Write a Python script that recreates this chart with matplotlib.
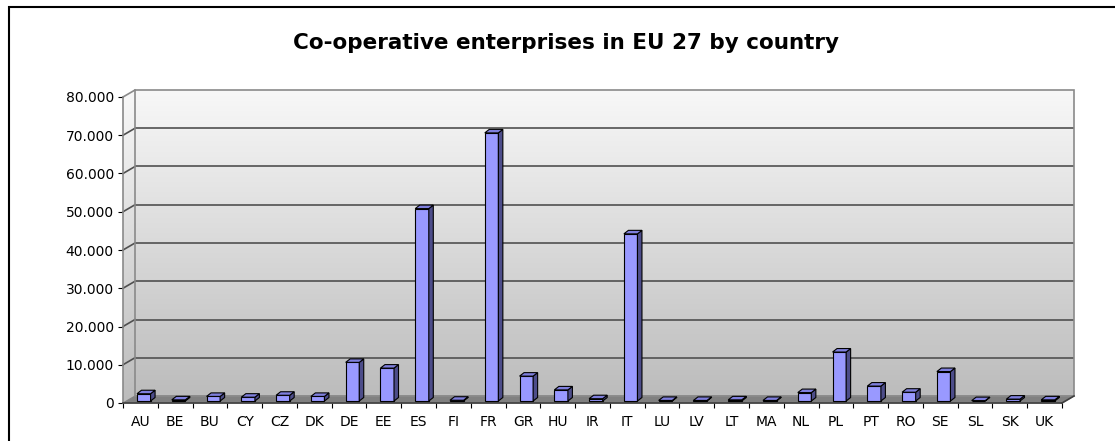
import numpy as np
import matplotlib.pyplot as plt
from matplotlib.colors import LinearSegmentedColormap
from matplotlib.patches import Polygon, Rectangle
from matplotlib.lines import Line2D
from matplotlib.transforms import ScaledTranslation, IdentityTransform, Affine2D

countries = ['AU', 'BE', 'BU', 'CY', 'CZ', 'DK', 'DE', 'EE', 'ES', 'FI', 'FR', 'GR', 'HU', 'IR',
             'IT', 'LU', 'LV', 'LT', 'MA', 'NL', 'PL', 'PT', 'RO', 'SE', 'SL', 'SK', 'UK']
enterprises = [1900, 300, 1200, 1000, 1500, 1200, 10100, 8600, 50300, 200, 70100, 6500, 2900, 600,
               43700, 150, 150, 300, 150, 2200, 12800, 3900, 2300, 7700, 100, 500, 300]
y_ticks = list(range(0, 80001, 10000))
y_labels = [f"{v:,}".replace(",", ".") for v in y_ticks]
title = 'Co-operative enterprises in EU 27 by country'

plt.rcParams['font.family'] = ['DejaVu Sans']

W, H = 1115, 441
fig = plt.figure(figsize=(W / 100, H / 100), dpi=100)
ax = fig.add_axes([123 / W, 38 / H, 939 / W, 306 / H])
n = len(countries)
ax.set_xlim(0, n)
ax.set_ylim(0, 80000)
ax.set_autoscale_on(False)
ax.patch.set_visible(False)

DX, DY = 12, 7          # wall depth in pixels
BX, BY = 3.4, 2         # where the bar fronts stand
BDX, BDY = 4.5, 3.5     # bar depth


def shift(dx, dy):
    return ax.transData + ScaledTranslation(dx / 100, dy / 100, fig.dpi_scale_trans)


def px(x, y, dx=0, dy=0):
    X, Y = ax.transData.transform((x, y))
    return (X + dx, Y + dy)


def poly(pts, **kw):
    p = Polygon(pts, closed=True, transform=IdentityTransform(), clip_on=False, **kw)
    ax.add_artist(p)


def line(p1, p2, **kw):
    ax.add_artist(Line2D([p1[0], p2[0]], [p1[1], p2[1]], transform=IdentityTransform(),
                         clip_on=False, **kw))


wall = LinearSegmentedColormap.from_list('wall', ['#bcbcbc', '#f8f8f8'])
grad = np.linspace(0, 1, 256).reshape(-1, 1)

# back wall
ax.imshow(grad, extent=(0, n, 0, 80000), origin='lower', aspect='auto', cmap=wall,
          transform=shift(DX, DY), clip_on=False, zorder=0, interpolation='bilinear')
# side wall (sheared)
x0, y0 = px(0, 0)
side_w = DX / (ax.transData.transform((1, 0))[0] - x0)
shear = Affine2D().translate(-x0, 0).skew(0, np.arctan(DY / DX)).translate(x0, 0)
ax.imshow(grad, extent=(0, side_w, 0, 80000), origin='lower', aspect='auto', cmap=wall,
          transform=ax.transData + shear, clip_on=False, zorder=0, interpolation='bilinear')

# floor
poly([px(0, 0), px(n, 0), px(n, 0, DX, DY), px(0, 0, DX, DY)],
     facecolor='#808080', edgecolor='#808080', lw=0.8, zorder=1)

# gridlines
ax.hlines(y_ticks[1:-1], 0, n, transform=shift(DX, DY), color='#505050', lw=1.2,
          clip_on=False, zorder=1)
for v in y_ticks[1:-1]:
    line(px(0, v), px(0, v, DX, DY), color='#505050', lw=1.2, zorder=1)
# wall outline
edge = '#8a8a8a'
ax.add_artist(Rectangle((0, 0), n, 80000, fill=False, edgecolor=edge, lw=1.2,
                        transform=shift(DX, DY), clip_on=False, zorder=1))
line(px(0, 80000), px(0, 80000, DX, DY), color=edge, lw=1.2, zorder=1)
line(px(n, 0), px(n, 0, DX, DY), color='#404040', lw=1.2, zorder=1)

# bars
bw = 0.39
xs = np.arange(n) + 0.5
ax.bar(xs, enterprises, width=bw, color='#9999ff', edgecolor='black', lw=0.8,
       transform=shift(BX, BY), zorder=3)
for x, v in zip(xs, enterprises):
    xl, xr = x - bw / 2, x + bw / 2
    poly([px(xr, 0, BX, BY), px(xr, v, BX, BY), px(xr, v, BX + BDX, BY + BDY),
          px(xr, 0, BX + BDX, BY + BDY)], facecolor='#4d4d8a', edgecolor='black', lw=0.8, zorder=3)
    poly([px(xl, v, BX, BY), px(xr, v, BX, BY), px(xr, v, BX + BDX, BY + BDY),
          px(xl, v, BX + BDX, BY + BDY)], facecolor='#7f7fdd', edgecolor='black', lw=0.8, zorder=3)

# axes
for s in ['top', 'right']:
    ax.spines[s].set_visible(False)
ax.spines['left'].set_color(edge)
ax.spines['bottom'].set_color('#404040')
ax.spines['left'].set_linewidth(1.2)
ax.spines['bottom'].set_linewidth(1.2)

ax.set_yticks(y_ticks)
ax.set_yticklabels(y_labels)
ax.tick_params(axis='y', direction='out', length=3.6, width=0.8, labelsize=10, pad=3)
ax.set_xticks(np.arange(n + 1))
ax.set_xticklabels([])
ax.set_xticks(xs, minor=True)
ax.set_xticklabels(countries, minor=True)
ax.tick_params(axis='x', which='major', direction='out', length=3.6, width=0.8)
ax.tick_params(axis='x', which='minor', length=0, labelsize=10, pad=9)

fig.text(566 / W, 1 - 43 / H, title, fontsize=15.5, fontweight='bold', ha='center', va='center')
fig.add_artist(Rectangle((8.5 / W, -0.1), 2, 1 + 0.1 - 7.5 / H, fill=False, edgecolor='black',
                         lw=1.5, transform=fig.transFigure))

fig.savefig('out.png', dpi=100)
